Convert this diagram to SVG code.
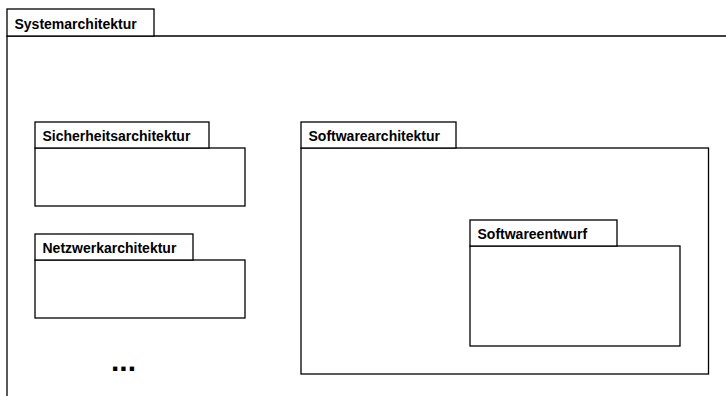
<svg xmlns="http://www.w3.org/2000/svg" width="726" height="396" viewBox="0 0 726 396">
<style>
.b{fill:#fff;stroke:#000;stroke-width:1.3}
.t{font-family:"Liberation Sans",Arial,sans-serif;font-weight:bold;font-size:14px;fill:#000}
</style>
<rect width="726" height="396" fill="#fff"/>
<g id="systemarchitektur">
<path d="M7,396 V36 H727" fill="none" stroke="#000" stroke-width="1.3"/>
<rect class="b" x="7" y="9" width="147" height="27"/>
<text class="t" x="14.5" y="28.5">Systemarchitektur</text>
</g>
<g id="sicherheitsarchitektur">
<rect class="b" x="35" y="148" width="210" height="58"/>
<rect class="b" x="35" y="122" width="174" height="26"/>
<text class="t" x="42.5" y="140.5">Sicherheitsarchitektur</text>
</g>
<g id="netzwerkarchitektur">
<rect class="b" x="35" y="260" width="210" height="58"/>
<rect class="b" x="35" y="234" width="158" height="26"/>
<text class="t" x="42.5" y="252.5">Netzwerkarchitektur</text>
</g>
<g id="softwarearchitektur">
<rect class="b" x="301" y="148" width="407.5" height="226"/>
<rect class="b" x="301" y="122" width="155" height="26"/>
<text class="t" x="308.5" y="140.5">Softwarearchitektur</text>
</g>
<g id="softwareentwurf">
<rect class="b" x="470" y="246" width="210" height="100"/>
<rect class="b" x="470" y="220" width="147" height="26"/>
<text class="t" x="477.5" y="238.5">Softwareentwurf</text>
</g>
<g id="ellipsis">
<text class="t" x="111" y="370.5" style="font-size:30px">...</text>
</g>
<g id="connectors"/>
</svg>
